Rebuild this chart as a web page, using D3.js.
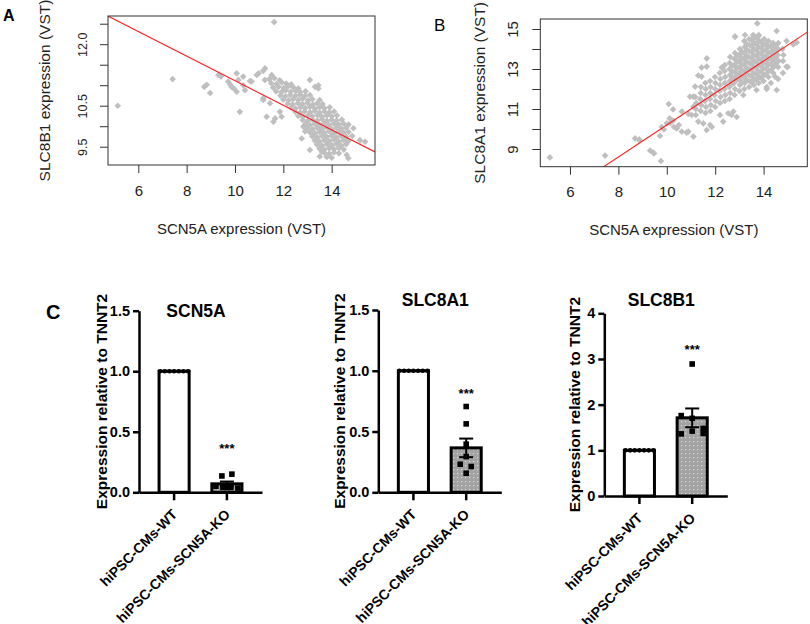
<!DOCTYPE html>
<html>
<head>
<meta charset="utf-8">
<script src="https://cdn.jsdelivr.net/npm/d3@7"></script>
<style>
  body { margin: 0; background: #fff; }
  svg { display: block; font-family: "Liberation Sans", Arial, sans-serif; }
</style>
</head>
<body>
<svg id="fig" width="810" height="624"></svg>
<script>
// ---------- data ----------

// Panel A: SCN5A (x) vs SLC8B1 (y), VST expression
const scatterA = [
  [5.15,10.5],[7.42,11.15],[11.62,12.54],[10.2,10.35],
  [8.73,10.96],[8.83,11.01],[8.97,10.81],[9.31,11.25],[9.42,11.21],
  [9.72,11.09],[9.86,10.96],[10.07,10.84],[10.14,11.13],[10.34,11.0],[10.41,10.88],[9.8,11.02],[9.95,10.92],
  [10.07,11.29],[10.34,11.21],[10.69,11.09],[10.9,11.25],[11.24,11.41],[11.17,11.35],[11.24,11.13],
  [11.52,11.25],[10.62,11.1],[10.98,11.29],
  [11.31,10.23],[11.59,10.11],[11.66,10.19],[11.86,10.35],[11.93,10.23],
  [11.17,10.68],[11.45,10.56],[11.17,10.64],
  [13.1,11.13],[13.31,10.96],[13.45,11.0],[13.45,10.92],
  [14.9,9.95],[15.17,9.66],[15.38,9.62],
  [13.1,9.42],[13.51,9.26],[13.59,9.38],[14.69,9.22],[14.62,9.3],
  [12.83,9.99],[12.9,9.87],[12.76,9.7],
  [11.42,11.15],[11.63,11.17],[11.85,11.12],
  [11.5,11.05],[11.72,11.03],[11.93,11.07],[12.12,11.04],[12.33,11.02],
  [11.58,10.94],[11.8,10.96],[12.02,10.93],[12.2,10.97],[12.41,10.95],[12.62,10.92],
  [11.7,10.85],[11.92,10.83],[12.1,10.87],[12.31,10.84],[12.52,10.86],[12.7,10.83],[12.92,10.85],
  [11.88,10.75],[12.08,10.73],[12.28,10.76],[12.5,10.74],[12.69,10.77],[12.9,10.74],[13.1,10.76],
  [12.0,10.65],[12.21,10.63],[12.4,10.66],[12.62,10.64],[12.8,10.67],[13.02,10.63],[13.2,10.66],[13.5,10.64],
  [12.18,10.55],[12.38,10.53],[12.6,10.56],[12.79,10.54],[13.0,10.57],[13.22,10.53],[13.4,10.56],[13.62,10.54],
  [12.32,10.45],[12.5,10.43],[12.71,10.46],[12.9,10.44],[13.1,10.47],[13.31,10.43],[13.5,10.46],[13.7,10.44],[13.92,10.46],
  [12.5,10.35],[12.7,10.33],[12.88,10.36],[13.1,10.34],[13.3,10.37],[13.5,10.33],[13.7,10.36],[13.9,10.34],[14.1,10.36],
  [12.62,10.25],[12.82,10.23],[13.02,10.26],[13.2,10.24],[13.42,10.27],[13.6,10.23],[13.8,10.26],[14.0,10.24],[14.22,10.26],
  [12.8,10.15],[13.0,10.13],[13.2,10.16],[13.4,10.14],[13.6,10.17],[13.8,10.13],[14.0,10.16],[14.2,10.14],[14.42,10.16],
  [12.92,10.05],[13.1,10.03],[13.3,10.06],[13.5,10.04],[13.7,10.07],[13.9,10.03],[14.1,10.06],[14.3,10.04],[14.5,10.06],[14.7,10.04],
  [13.0,9.95],[13.2,9.93],[13.4,9.96],[13.6,9.94],[13.8,9.97],[14.0,9.93],[14.2,9.96],[14.4,9.94],[14.6,9.96],
  [13.1,9.85],[13.3,9.83],[13.5,9.86],[13.7,9.84],[13.9,9.87],[14.1,9.83],[14.3,9.86],[14.5,9.84],[14.7,9.86],
  [13.2,9.75],[13.4,9.73],[13.6,9.76],[13.8,9.74],[14.0,9.77],[14.2,9.73],[14.4,9.76],[14.6,9.74],[14.85,9.76],
  [13.3,9.65],[13.5,9.63],[13.7,9.66],[13.9,9.64],[14.1,9.67],[14.3,9.63],[14.5,9.66],[14.7,9.64],
  [13.4,9.55],[13.6,9.53],[13.8,9.56],[14.0,9.54],[14.2,9.57],[14.4,9.53],[14.6,9.56],
  [13.5,9.45],[13.7,9.43],[13.9,9.46],[14.1,9.44],[14.3,9.47],[14.5,9.43],
  [13.7,9.35],[13.9,9.33],[14.1,9.36],[14.3,9.34],
  [13.8,9.25],[14.0,9.23]
];
const fitA = [14.11, -0.30];        // intercept, slope of the red line
const xTicksAB = [6, 8, 10, 12, 14];
const yTicksA = [9.5, 10, 10.5, 11, 11.5, 12, 12.5];
const yLabelsA = [9.5, 10.5, 12];

// Panel B: SCN5A (x) vs SLC8A1 (y)
const scatterB = [
  [5.17,8.58],[7.45,8.67],[8.69,9.53],[8.86,9.48],[8.88,9.42],[9.31,8.92],[9.44,8.82],[9.47,8.78],[9.76,8.4],
  [9.72,9.65],[9.88,9.98],[9.79,10.1],[10.0,10.28],[10.12,10.53],[10.26,10.42],[10.08,11.25],[10.26,10.98],
  [10.41,10.03],[10.62,9.87],[10.82,9.82],[10.89,9.87],[11.1,9.62],[10.5,10.2],[10.3,10.1],[10.15,10.3],
  [10.62,10.87],[10.9,10.75],[11.03,10.7],
  [11.3,12.67],[11.17,12.12],[11.1,11.62],[11.44,13.07],[11.65,13.53],[12.27,13.07],
  [12.82,14.62],[13.23,14.7],[13.74,15.28],[14.54,14.9],[14.95,14.4],[15.23,14.23],[15.37,14.33],
  [14.95,13.12],[14.47,12.62],[14.13,12.0],[13.71,11.95],[13.16,11.7],[12.68,10.7],[12.33,10.37],[11.79,10.2],[11.51,10.28],
  [14.54,11.95],[14.13,12.1],[14.3,12.3],[14.6,12.5],[14.8,12.8],[15.0,13.1],
  [12.2,10.7],[12.54,10.79],[12.75,10.87],[12.89,10.6],[11.65,9.95],[11.86,10.1],[11.3,10.37],
  [10.96,11.62],[11.1,11.12],[11.44,12.62],[11.65,13.12],
  [13.57,14.7],[13.78,14.62],[12.82,14.62],[13.3,14.2],
  [11.2,10.7],[11.2,11.0],[11.22,11.3],[11.18,11.6],
  [11.4,10.9],[11.42,11.2],[11.38,11.5],[11.4,11.8],[11.41,12.1],
  [11.6,10.8],[11.62,11.1],[11.58,11.4],[11.6,11.7],[11.61,12.0],[11.59,12.3],
  [11.8,10.9],[11.82,11.2],[11.78,11.5],[11.8,11.8],[11.81,12.1],[11.79,12.4],
  [12.0,11.1],[12.02,11.4],[11.98,11.7],[12.0,12.0],[12.01,12.3],[11.99,12.6],
  [12.2,11.3],[12.22,11.6],[12.18,11.9],[12.2,12.2],[12.21,12.5],[12.19,12.8],
  [12.4,11.4],[12.42,11.7],[12.38,12.0],[12.4,12.3],[12.41,12.6],[12.39,12.9],[12.4,13.2],
  [12.6,11.5],[12.62,11.8],[12.58,12.1],[12.6,12.4],[12.61,12.7],[12.59,13.0],[12.6,13.3],[12.62,13.6],
  [12.8,11.7],[12.82,12.0],[12.78,12.3],[12.8,12.6],[12.81,12.9],[12.79,13.2],[12.8,13.5],[12.82,13.8],
  [13.0,11.9],[13.02,12.2],[12.98,12.5],[13.0,12.8],[13.01,13.1],[12.99,13.4],[13.0,13.7],[13.02,14.0],
  [13.2,12.0],[13.22,12.3],[13.18,12.6],[13.2,12.9],[13.21,13.2],[13.19,13.5],[13.2,13.8],[13.22,14.1],[13.2,14.4],
  [13.4,12.1],[13.42,12.4],[13.38,12.7],[13.4,13.0],[13.41,13.3],[13.39,13.6],[13.4,13.9],[13.42,14.2],[13.4,14.5],
  [13.6,12.2],[13.62,12.5],[13.58,12.8],[13.6,13.1],[13.61,13.4],[13.59,13.7],[13.6,14.0],[13.62,14.3],[13.6,14.6],
  [13.8,12.3],[13.82,12.6],[13.78,12.9],[13.8,13.2],[13.81,13.5],[13.79,13.8],[13.8,14.1],[13.82,14.4],[13.8,14.7],
  [14.0,12.4],[14.02,12.7],[13.98,13.0],[14.0,13.3],[14.01,13.6],[13.99,13.9],[14.0,14.2],[14.02,14.5],
  [14.2,12.6],[14.22,12.9],[14.18,13.2],[14.2,13.5],[14.21,13.8],[14.19,14.1],[14.2,14.4],
  [14.4,12.8],[14.42,13.1],[14.38,13.4],[14.4,13.7],[14.41,14.0],[14.39,14.3],
  [14.6,13.1],[14.62,13.4],[14.58,13.7],[14.6,14.0],[14.61,14.3],
  [14.8,13.4],[14.82,13.7],[14.78,14.0],
  [12.7,12.25],[12.7,12.55],[12.7,12.85],[12.7,13.15],[12.9,12.45],[12.9,12.75],[12.9,13.05],[12.9,13.35],[12.9,13.65],
  [13.1,12.35],[13.1,12.65],[13.1,12.95],[13.1,13.25],[13.1,13.55],[13.1,13.85],
  [13.3,12.45],[13.3,12.75],[13.3,13.05],[13.3,13.35],[13.3,13.65],[13.3,13.95],[13.3,14.25],
  [13.5,12.35],[13.5,12.65],[13.5,12.95],[13.5,13.25],[13.5,13.55],[13.5,13.85],[13.5,14.15],[13.5,14.45],
  [13.7,12.45],[13.7,12.75],[13.7,13.05],[13.7,13.35],[13.7,13.65],[13.7,13.95],[13.7,14.25],[13.7,14.55],
  [13.9,12.55],[13.9,12.85],[13.9,13.15],[13.9,13.45],[13.9,13.75],[13.9,14.05],[13.9,14.35],
  [14.1,12.75],[14.1,13.05],[14.1,13.35],[14.1,13.65],[14.1,13.95],[14.1,14.25],
  [14.3,12.95],[14.3,13.25],[14.3,13.55],[14.3,13.85],[14.3,14.15],
  [14.5,13.25],[14.5,13.55],[14.5,13.85],[14.5,14.15]
];
const fitB = [2.2, 0.80];
const yTicksB = [9, 10, 11, 12, 13, 14, 15];
const yLabelsB = [9, 11, 13, 15];

// Panel C: qPCR, expression relative to TNNT2
const groups = ["hiPSC-CMs-WT", "hiPSC-CMs-SCN5A-KO"];
const genes = ["SCN5A", "SLC8A1", "SLC8B1"];
const wtValues = [1, 1, 1, 1, 1, 1, 1];
const koSCN5A = [0.135, 0.15, 0.05, 0.04, 0.04, 0.035, 0.04];
const koSLC8A1 = [0.706, 0.563, 0.396, 0.294, 0.231, 0.212, 0.157];
const koSLC8B1 = [2.89, 1.76, 1.70, 1.42, 1.36, 1.48, 1.37];
const yMaxC = [1.5, 1.5, 4];
const yTicksC = [[0, 0.5, 1, 1.5], [0, 0.5, 1, 1.5], [0, 1, 2, 3, 4]];
const starLevel = [0.38, 0.83, 3.26];   // height of the "***" marks

// ---------- drawing ----------
const svg = d3.select("#fig");
const FONT = '"Liberation Sans", Arial, sans-serif';

function scatterPanel(o) {
  const [L, T, R, B] = o.box;
  const x = d3.scaleLinear().domain(o.xDom).range([L, R]);
  const y = d3.scaleLinear().domain(o.yDom).range([B, T]);
  const g = svg.append("g");

  g.append("clipPath").attr("id", "clip" + o.id)
    .append("rect").attr("x", L).attr("y", T).attr("width", R - L).attr("height", B - T);
  const inner = g.append("g").attr("clip-path", `url(#clip${o.id})`);

  inner.selectAll("path.pt").data(o.data).join("path")
    .attr("class", "pt")
    .attr("d", d3.symbol(d3.symbolSquare, 22))
    .attr("transform", d => `translate(${x(d[0])},${y(d[1])}) rotate(45)`)
    .attr("fill", "#bfbfbf");

  const xd = x.domain();
  inner.append("line")
    .attr("x1", x(xd[0])).attr("y1", y(o.fit[0] + o.fit[1] * xd[0]))
    .attr("x2", x(xd[1])).attr("y2", y(o.fit[0] + o.fit[1] * xd[1]))
    .attr("stroke", "#ff2020").attr("stroke-width", 1.1);

  g.append("rect").attr("x", L).attr("y", T).attr("width", R - L).attr("height", B - T)
    .attr("fill", "none").attr("stroke", "#333").attr("stroke-width", 1);

  const ax = g.append("g").attr("transform", `translate(0,${B})`)
    .call(d3.axisBottom(x).tickValues(xTicksAB).tickSize(8).tickPadding(12).tickSizeOuter(0));
  ax.select(".domain").remove();
  ax.attr("font-size", 15).attr("font-family", FONT);
  ax.selectAll("line").attr("stroke", "#333");
  ax.selectAll("text").attr("fill", "#222");

  const fmt = d3.format(o.yFmt);
  const ay = g.append("g").attr("transform", `translate(${L},0)`)
    .call(d3.axisLeft(y).tickValues(o.yTicks).tickSize(8).tickSizeOuter(0)
      .tickFormat(d => o.yLabels.includes(d) ? fmt(d) : ""));
  ay.select(".domain").remove();
  ay.attr("font-size", o.yTickFont).attr("font-family", FONT);
  ay.selectAll("line").attr("stroke", "#333");
  ay.selectAll("text").attr("fill", "#222")
    .attr("x", 0).attr("dy", 0).attr("text-anchor", "middle")
    .attr("transform", `translate(${-o.yTickOff},0) rotate(-90)`);

  g.append("text").attr("x", (L + R) / 2).attr("y", o.xTitleY)
    .attr("text-anchor", "middle").attr("font-size", 15).attr("fill", "#222")
    .text("SCN5A expression (VST)");
  g.append("text").attr("transform", `translate(${o.yTitleX},${(T + B) / 2}) rotate(-90)`)
    .attr("text-anchor", "middle").attr("dy", "0.35em").attr("font-size", 15.5).attr("fill", "#222")
    .text(o.yTitle);
}

scatterPanel({
  id: "A", data: scatterA, fit: fitA, box: [108, 16, 375, 165],
  xDom: [4.746, 15.793], yDom: [9.054, 12.688],
  yTicks: yTicksA, yLabels: yLabelsA, yFmt: ".1f", yTickFont: 12.5, yTickOff: 21,
  xTitleY: 234, yTitleX: 45, yTitle: "SLC8B1 expression (VST)"
});
scatterPanel({
  id: "B", data: scatterB, fit: fitB, box: [540.3, 19, 807.3, 166.7],
  xDom: [4.773, 15.806], yDom: [8.115, 15.5],
  yTicks: yTicksB, yLabels: yLabelsB, yFmt: "d", yTickFont: 15, yTickOff: 22,
  xTitleY: 235, yTitleX: 480, yTitle: "SLC8A1 expression (VST)"
});

svg.append("text").attr("x", 3).attr("y", 21).attr("font-size", 16).attr("font-weight", "bold").text("A");
svg.append("text").attr("x", 434).attr("y", 31).attr("font-size", 17).text("B");
svg.append("text").attr("x", 46).attr("y", 319).attr("font-size", 20).attr("font-weight", "bold").text("C");

// stippled fill for the KO bars
const pat = svg.append("defs").append("pattern").attr("id", "stipple")
  .attr("width", 4).attr("height", 4).attr("patternUnits", "userSpaceOnUse");
pat.append("rect").attr("width", 4).attr("height", 4).attr("fill", "#a3a3a3");
pat.append("rect").attr("x", 1).attr("y", 1).attr("width", 1.2).attr("height", 1.2).attr("fill", "#d8d8d8");

// layout of the three bar charts
const layoutC = [
  { axisX: 139,   top: 310.7, bottom: 492.3, titleY: 317, yTitleX: 101.5, fmt: ".1f" },
  { axisX: 378.3, top: 310,   bottom: 492.3, titleY: 306, yTitleX: 340,   fmt: ".1f" },
  { axisX: 604.3, top: 313.3, bottom: 496,   titleY: 306, yTitleX: 575,   fmt: "d" }
];
const wtSpread = [-14, -9.3, -4.7, 0, 4.7, 9.3, 14];
const koSpread = [[-5, 5, -11, -4, 4, 11, 0], [0, 0, 0, 0, -6, 5, 0], [0, -11, 0, 0, -11, 11, 11]];
const koSeries = [koSCN5A, koSLC8A1, koSLC8B1];

genes.forEach((gene, i) => {
  const lay = layoutC[i];
  const g = svg.append("g").attr("font-family", FONT);
  const x = d3.scaleBand().domain(groups).range([lay.axisX, lay.axisX + 123])
    .paddingInner(0.43).paddingOuter(0.38);
  const y = d3.scaleLinear().domain([0, yMaxC[i]]).range([lay.bottom, lay.top]);
  const ko = koSeries[i];
  const stats = [
    { grp: groups[0], vals: wtValues, mean: d3.mean(wtValues), sem: 0, fill: "#fff", spread: wtSpread },
    { grp: groups[1], vals: ko, mean: d3.mean(ko), sem: d3.deviation(ko) / Math.sqrt(ko.length), fill: "url(#stipple)", spread: koSpread[i] }
  ];

  // bars
  g.selectAll("rect.bar").data(stats).join("rect").attr("class", "bar")
    .attr("x", d => x(d.grp)).attr("width", x.bandwidth())
    .attr("y", d => y(d.mean)).attr("height", d => y(0) - y(d.mean))
    .attr("fill", d => d.fill).attr("stroke", "#000").attr("stroke-width", 3);

  // individual replicates
  const cx = d => x(d.grp) + x.bandwidth() / 2;
  g.selectAll("circle.wt").data(stats[0].vals).join("circle").attr("class", "wt")
    .attr("cx", (v, k) => cx(stats[0]) + stats[0].spread[k]).attr("cy", v => y(v))
    .attr("r", 2.3).attr("fill", "#000");
  g.selectAll("rect.ko").data(stats[1].vals).join("rect").attr("class", "ko")
    .attr("x", (v, k) => cx(stats[1]) + stats[1].spread[k] - 2.8).attr("y", v => y(v) - 2.8)
    .attr("width", 5.6).attr("height", 5.6).attr("fill", "#000");

  // SEM error bar
  const s = stats[1], c = cx(s);
  const eb = g.append("g").attr("stroke", "#000").attr("stroke-width", 2);
  eb.append("line").attr("x1", c).attr("x2", c).attr("y1", y(s.mean - s.sem)).attr("y2", y(s.mean + s.sem));
  [s.mean - s.sem, s.mean + s.sem].forEach(v =>
    eb.append("line").attr("x1", c - 7).attr("x2", c + 7).attr("y1", y(v)).attr("y2", y(v)));

  // significance
  g.append("text").attr("x", c).attr("y", y(starLevel[i]) + 7).attr("text-anchor", "middle")
    .attr("font-size", 13).attr("font-weight", "bold").text("***");

  // axes
  const ay = g.append("g").attr("transform", `translate(${lay.axisX},0)`)
    .call(d3.axisLeft(y).tickValues(yTicksC[i]).tickFormat(d3.format(lay.fmt))
      .tickSize(6).tickPadding(3).tickSizeOuter(0));
  ay.attr("font-size", 14.5).attr("font-family", FONT).attr("font-weight", "bold");
  ay.selectAll("path,line").attr("stroke", "#000").attr("stroke-width", 2.5);
  ay.selectAll("text").attr("fill", "#000");

  const ax = g.append("g").attr("transform", `translate(0,${lay.bottom})`)
    .call(d3.axisBottom(x).tickSize(8).tickSizeOuter(0));
  ax.attr("font-size", 14).attr("font-family", FONT).attr("font-weight", "bold");
  ax.selectAll("path,line").attr("stroke", "#000").attr("stroke-width", 2.5);
  ax.selectAll("text").attr("fill", "#000")
    .attr("x", 0).attr("y", 0).attr("dy", 0).attr("text-anchor", "end")
    .attr("transform", "translate(4,23) rotate(-45)");

  // titles
  g.append("text").attr("x", lay.axisX + 57).attr("y", lay.titleY).attr("text-anchor", "middle")
    .attr("font-size", 17.5).attr("font-weight", "bold").text(gene);
  g.append("text").attr("transform", `translate(${lay.yTitleX},${(lay.top + lay.bottom) / 2}) rotate(-90)`)
    .attr("text-anchor", "middle").attr("dy", "0.35em")
    .attr("font-size", 15.5).attr("font-weight", "bold").text("Expression relative to TNNT2");
});
</script>
</body>
</html>
